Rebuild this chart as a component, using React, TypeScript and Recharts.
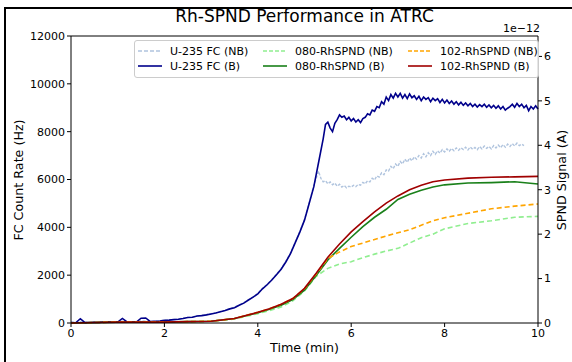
import React from "react";
import {
  LineChart,
  Line,
  XAxis,
  YAxis,
  ReferenceLine,
} from "recharts";

// U-235 FC (B): time (min) and count rate (Hz)
const fcBTime = [
  0, 0.1, 0.2, 0.3, 0.4, 0.5, 0.6, 0.7, 0.8, 0.9, 1.0, 1.1, 1.2, 1.3, 1.4, 1.5, 1.6, 1.7, 1.8, 1.9,
  2.0, 2.1, 2.2, 2.3, 2.4, 2.5, 2.6, 2.7, 2.8, 2.9, 3.0, 3.1, 3.2, 3.3, 3.4, 3.5, 3.6, 3.7, 3.8, 3.9,
  4.0, 4.1, 4.2, 4.3, 4.4, 4.5, 4.6, 4.7, 4.8, 4.9, 5.0, 5.1, 5.2, 5.3, 5.4, 5.45,
  5.5, 5.55, 5.6, 5.65, 5.7, 5.75, 5.8, 5.85, 5.9, 5.95, 6.0, 6.05, 6.1, 6.15, 6.2, 6.25, 6.3, 6.35, 6.4, 6.45,
  6.5, 6.55, 6.6, 6.65, 6.7, 6.75, 6.8, 6.85, 6.9, 6.95, 7.0, 7.05, 7.1, 7.15, 7.2, 7.25, 7.3, 7.35, 7.4, 7.45,
  7.5, 7.55, 7.6, 7.65, 7.7, 7.75, 7.8, 7.85, 7.9, 7.95, 8.0, 8.05, 8.1, 8.15, 8.2, 8.25, 8.3, 8.35, 8.4, 8.45,
  8.5, 8.55, 8.6, 8.65, 8.7, 8.75, 8.8, 8.85, 8.9, 8.95, 9.0, 9.05, 9.1, 9.15, 9.2, 9.25, 9.3, 9.35, 9.4, 9.45,
  9.5, 9.55, 9.6, 9.65, 9.7, 9.75, 9.8, 9.85, 9.9, 9.95, 10.0,
];
const fcB = [
  20, 10, 180, 15, 20, 30, 25, 40, 45, 35, 40, 190, 45, 50, 40, 200, 210, 60, 70, 80,
  110, 120, 140, 160, 190, 230, 240, 290, 310, 340, 380, 420, 470, 520, 590, 640, 740, 830, 960, 1080,
  1220, 1430, 1600, 1800, 2020, 2250, 2550, 2900, 3350, 3800, 4300, 5000, 5700, 6700, 7700, 8300,
  8400, 8150, 8000, 8350, 8500, 8700, 8600, 8650, 8500, 8600, 8450, 8550, 8400, 8500, 8380, 8550, 8600, 8750, 8700, 8900,
  8850, 9050, 9000, 9250, 9150, 9450, 9300, 9550, 9400, 9600, 9450, 9600, 9400, 9550, 9380, 9580, 9420, 9500, 9350, 9480,
  9300, 9450, 9350, 9420, 9250, 9400, 9300, 9380, 9220, 9350, 9200, 9320, 9180, 9280, 9150, 9250, 9120, 9230, 9100, 9200,
  9080, 9180, 9050, 9150, 9030, 9130, 9050, 9150, 9020, 9120, 9000, 9100, 8980, 9080, 8950, 9050, 8900, 8980, 9050, 9150,
  9020, 9180, 9050, 9150, 9000, 9100, 8880, 9050, 8950, 9080, 8950,
];

// U-235 FC (NB): ends at 9.7 min
const fcNBTime = [
  0, 0.1, 0.2, 0.3, 0.4, 0.5, 0.6, 0.7, 0.8, 0.9, 1.0, 1.1, 1.2, 1.3, 1.4, 1.5, 1.6, 1.7, 1.8, 1.9,
  2.0, 2.1, 2.2, 2.3, 2.4, 2.5, 2.6, 2.7, 2.8, 2.9, 3.0, 3.1, 3.2, 3.3, 3.4, 3.5, 3.6, 3.7, 3.8, 3.9,
  4.0, 4.1, 4.2, 4.3, 4.4, 4.5, 4.6, 4.7, 4.8, 4.9, 5.0, 5.1, 5.2, 5.3, 5.35, 5.4, 5.45,
  5.5, 5.55, 5.6, 5.65, 5.7, 5.75, 5.8, 5.85, 5.9, 5.95, 6.0, 6.05, 6.1, 6.15, 6.2, 6.25, 6.3, 6.35, 6.4, 6.45,
  6.5, 6.55, 6.6, 6.65, 6.7, 6.75, 6.8, 6.85, 6.9, 6.95, 7.0, 7.05, 7.1, 7.15, 7.2, 7.25, 7.3, 7.35, 7.4, 7.45,
  7.5, 7.55, 7.6, 7.65, 7.7, 7.75, 7.8, 7.85, 7.9, 7.95, 8.0, 8.05, 8.1, 8.15, 8.2, 8.25, 8.3, 8.35, 8.4, 8.45,
  8.5, 8.55, 8.6, 8.65, 8.7, 8.75, 8.8, 8.85, 8.9, 8.95, 9.0, 9.05, 9.1, 9.15, 9.2, 9.25, 9.3, 9.35, 9.4, 9.45,
  9.5, 9.55, 9.6, 9.65, 9.7,
];
const fcNB = [
  30, 15, 60, 20, 25, 35, 30, 45, 40, 40, 45, 70, 50, 55, 45, 90, 80, 65, 75, 90,
  115, 125, 150, 170, 200, 235, 250, 295, 320, 350, 390, 430, 480, 530, 600, 660, 750, 850, 970, 1100,
  1240, 1450, 1620, 1820, 2040, 2280, 2580, 2930, 3380, 3830, 4330, 5030, 5750, 6350, 6050, 5900, 5950,
  5820, 5900, 5780, 5850, 5720, 5800, 5680, 5750, 5650, 5720, 5680, 5760, 5700, 5800, 5760, 5880, 5820, 5950, 5900, 6050,
  5980, 6150, 6100, 6280, 6200, 6400, 6350, 6550, 6450, 6650, 6550, 6750, 6650, 6850, 6720, 6900, 6780, 6950, 6850, 7000,
  6900, 7080, 6950, 7120, 7000, 7180, 7050, 7200, 7100, 7250, 7150, 7280, 7180, 7300, 7200, 7320, 7220, 7330, 7250, 7350,
  7240, 7360, 7260, 7340, 7250, 7380, 7280, 7400, 7300, 7380, 7280, 7420, 7320, 7440, 7330, 7460, 7350, 7480, 7380, 7500,
  7400, 7520, 7420, 7480, 7420,
];

// SPND traces, units of 1e-12 A
const spndTime = [
  0, 0.5, 1, 1.5, 2, 2.5, 3, 3.5, 4, 4.25, 4.5, 4.75, 5, 5.25, 5.5, 5.75, 6, 6.25, 6.5, 6.75,
  7, 7.25, 7.5, 7.75, 8, 8.5, 9, 9.5, 10,
];
const spnd080NB = [
  0, 0.01, 0.02, 0.02, 0.02, 0.03, 0.04, 0.09, 0.21, 0.28, 0.36, 0.5, 0.72, 1.05, 1.23, 1.33, 1.38, 1.47, 1.55, 1.62,
  1.68, 1.8, 1.92, 2.0, 2.12, 2.24, 2.3, 2.38, 2.4,
];
const spnd080B = [
  0, 0.01, 0.02, 0.02, 0.02, 0.03, 0.04, 0.1, 0.23, 0.31, 0.4, 0.53, 0.74, 1.07, 1.42, 1.68, 1.93, 2.17, 2.38, 2.56,
  2.78, 2.9, 2.99, 3.06, 3.11, 3.15, 3.16, 3.18, 3.13,
];
const spnd102NB = [
  0, 0.01, 0.02, 0.02, 0.02, 0.03, 0.04, 0.1, 0.24, 0.32, 0.42, 0.55, 0.77, 1.1, 1.45, 1.6, 1.72, 1.8, 1.88, 1.96,
  2.03, 2.1, 2.2, 2.3, 2.37, 2.47, 2.57, 2.63, 2.68,
];
const spnd102B = [
  0, 0.01, 0.02, 0.02, 0.02, 0.03, 0.04, 0.1, 0.24, 0.32, 0.42, 0.55, 0.78, 1.12, 1.48, 1.78, 2.05, 2.28, 2.5, 2.7,
  2.86, 3.0, 3.1, 3.18, 3.22, 3.26, 3.28, 3.29, 3.3,
];

const xTicks = [0, 2, 4, 6, 8, 10];
const leftTicks = [0, 2000, 4000, 6000, 8000, 10000, 12000];
const rightTicks = [0, 1, 2, 3, 4, 5, 6];

const toRows = (t: number[], v: number[]) => v.map((y, i) => ({ t: t[i], y }));

const series = [
  { name: "U-235 FC (NB)", axis: "left", data: toRows(fcNBTime, fcNB), color: "#b0c4de", dash: "3 1.5", w: 1.4 },
  { name: "U-235 FC (B)", axis: "left", data: toRows(fcBTime, fcB), color: "#00008b", dash: undefined, w: 1.6 },
  { name: "080-RhSPND (NB)", axis: "right", data: toRows(spndTime, spnd080NB), color: "#90ee90", dash: "5 3", w: 1.6 },
  { name: "080-RhSPND (B)", axis: "right", data: toRows(spndTime, spnd080B), color: "#1a801a", dash: undefined, w: 1.6 },
  { name: "102-RhSPND (NB)", axis: "right", data: toRows(spndTime, spnd102NB), color: "#ffa500", dash: "5 3", w: 1.6 },
  { name: "102-RhSPND (B)", axis: "right", data: toRows(spndTime, spnd102B), color: "#a00000", dash: undefined, w: 1.6 },
];

const font = "'DejaVu Sans', sans-serif";
const tick = { fontSize: 11, fill: "#000", fontFamily: font };

function LegendBox() {
  // 3 columns x 2 rows, like matplotlib's ncol=3 legend
  const cols = [
    [series[0], series[1]],
    [series[2], series[3]],
    [series[4], series[5]],
  ];
  const colX = [3, 128, 273];
  return (
    <div
      style={{
        position: "absolute",
        left: 134,
        top: 40,
        width: 403,
        height: 36,
        border: "1px solid #ccc",
        borderRadius: 3,
        background: "rgba(255,255,255,0.8)",
        fontFamily: font,
        fontSize: 11,
      }}
    >
      {cols.map((col, ci) =>
        col.map((s, ri) => (
          <div
            key={s.name}
            style={{ position: "absolute", left: colX[ci], top: 3 + ri * 15, display: "flex", alignItems: "center", height: 14 }}
          >
            <svg width={24} height={4} style={{ marginRight: 8 }}>
              <line x1={0} y1={2} x2={24} y2={2} stroke={s.color} strokeWidth={1.6} strokeDasharray={s.dash ? "4 2" : undefined} />
            </svg>
            <span style={{ whiteSpace: "nowrap" }}>{s.name}</span>
          </div>
        ))
      )}
    </div>
  );
}

export default function App() {
  return (
    <div style={{ position: "absolute", left: 0, top: 0, width: 572, height: 362, background: "#fff", overflow: "hidden" }}>
      <div
        style={{
          position: "absolute",
          left: 4,
          top: 7,
          width: 600,
          height: 400,
          border: "2px solid #000",
          boxSizing: "border-box",
        }}
      />
      <LineChart width={572} height={362} margin={{ top: 36, right: 0, bottom: 0, left: 0 }}>
        <XAxis
          dataKey="t"
          type="number"
          domain={[0, 10]}
          ticks={xTicks}
          allowDuplicatedCategory={false}
          height={39}
          tickSize={4}
          tick={tick}
          stroke="#000"
        />
        <YAxis yAxisId="left" domain={[0, 12000]} ticks={leftTicks} width={71} tickSize={4} tick={tick} stroke="#000" />
        <YAxis
          yAxisId="right"
          orientation="right"
          domain={[0, 6.46]}
          ticks={rightTicks}
          width={34}
          tickSize={4}
          tick={tick}
          stroke="#000"
        />
        <ReferenceLine yAxisId="left" y={12000} stroke="#000" />
        {series.map((s) => (
          <Line
            key={s.name}
            yAxisId={s.axis}
            data={s.data}
            dataKey="y"
            name={s.name}
            stroke={s.color}
            strokeWidth={s.w}
            strokeDasharray={s.dash}
            dot={false}
            isAnimationActive={false}
            type="linear"
          />
        ))}
      </LineChart>
      <div style={{ position: "absolute", left: 71, width: 467, top: 6, textAlign: "center", fontFamily: font, fontSize: 17 }}>
        Rh-SPND Performance in ATRC
      </div>
      <div style={{ position: "absolute", left: 503, top: 22, fontFamily: font, fontSize: 11 }}>1e−12</div>
      <div style={{ position: "absolute", left: 71, width: 467, top: 340, textAlign: "center", fontFamily: font, fontSize: 12.7 }}>
        Time (min)
      </div>
      <div
        style={{
          position: "absolute",
          left: 18,
          top: 180,
          transform: "translate(-50%, -50%) rotate(-90deg)",
          whiteSpace: "nowrap",
          fontFamily: font,
          fontSize: 12.7,
        }}
      >
        FC Count Rate (Hz)
      </div>
      <div
        style={{
          position: "absolute",
          left: 561,
          top: 180,
          transform: "translate(-50%, -50%) rotate(-90deg)",
          whiteSpace: "nowrap",
          fontFamily: font,
          fontSize: 12.7,
        }}
      >
        SPND Signal (A)
      </div>
      <LegendBox />
    </div>
  );
}
